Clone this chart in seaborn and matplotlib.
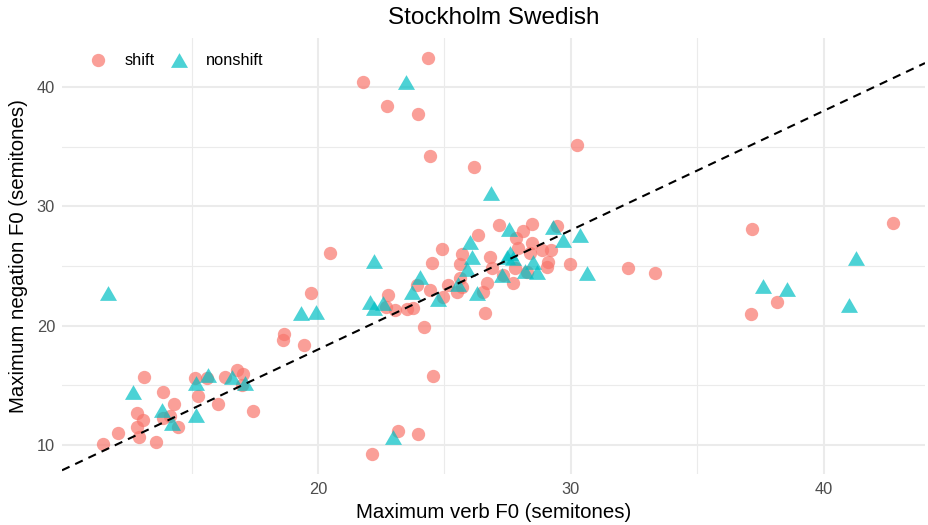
import numpy as np
import pandas as pd
import matplotlib
matplotlib.use("Agg")
import matplotlib.pyplot as plt
import seaborn as sns

# values (semitones)
shift_x = [11.50, 12.09, 12.85, 13.08, 12.85, 12.92, 13.60, 13.12, 13.87, 14.31,
           14.15, 14.47, 13.87, 15.14, 15.26, 15.61, 16.05, 16.32, 16.80, 17.04,
           17.00, 17.43, 18.66, 18.62, 19.45, 19.72, 20.47, 21.78, 22.73, 23.95,
           24.35, 24.43, 26.17, 30.24, 22.13, 23.16, 23.95, 24.55, 24.19, 26.60,
           24.51, 24.90, 27.15, 26.32, 25.69, 25.61, 28.46, 28.10, 27.83, 27.91,
           28.46, 28.38, 28.85, 29.21, 29.09, 29.05, 29.45, 29.96, 26.80, 26.88,
           27.79, 28.26, 27.71, 27.31, 26.68, 26.52, 25.61, 25.14, 25.69, 25.49,
           24.94, 24.43, 23.91, 22.77, 22.69, 23.04, 23.52, 23.75, 32.25, 33.32,
           37.15, 42.73, 38.14, 37.11]
shift_y = [10.08, 11.01, 12.68, 12.10, 11.51, 10.67, 10.25, 15.70, 14.44, 13.44,
           12.43, 11.51, 12.26, 15.62, 14.11, 15.62, 13.44, 15.70, 16.29, 15.95,
           15.03, 12.85, 19.30, 18.80, 18.38, 22.74, 26.09, 40.43, 38.42, 37.75,
           42.44, 34.22, 33.30, 35.15, 9.25, 11.17, 10.92, 15.78, 19.89, 21.06,
           25.26, 26.43, 28.44, 27.60, 26.01, 25.17, 28.52, 27.94, 27.35, 26.51,
           26.93, 26.09, 26.35, 26.35, 25.34, 24.92, 28.36, 25.17, 25.76, 24.84,
           24.84, 24.50, 23.58, 24.25, 23.58, 22.82, 24.00, 23.41, 23.24, 22.82,
           22.41, 22.99, 23.41, 22.57, 21.57, 21.32, 21.40, 21.48, 24.84, 24.42,
           28.11, 28.61, 21.99, 20.98]

nonshift_x = [11.70, 12.69, 13.83, 14.23, 15.18, 15.18, 15.65, 16.60, 17.11, 19.33,
              19.92, 23.48, 22.96, 26.84, 22.21, 27.55, 29.29, 29.68, 30.36, 30.63,
              26.01, 26.09, 25.89, 27.59, 27.71, 28.50, 28.66, 28.18, 27.27, 24.03,
              23.72, 25.53, 26.28, 24.74, 22.06, 22.21, 22.57, 37.59, 38.54, 41.26,
              40.99, 27.47]
nonshift_y = [22.74, 14.44, 12.93, 11.84, 12.51, 15.20, 15.87, 15.70, 15.20, 21.06,
              21.15, 40.43, 10.67, 31.12, 25.42, 28.11, 28.27, 27.18, 27.60, 24.42,
              27.02, 25.76, 24.75, 26.09, 25.67, 25.34, 24.50, 24.58, 24.25, 24.08,
              22.82, 23.50, 22.74, 22.24, 21.99, 21.48, 21.90, 23.33, 23.08, 25.67,
              21.73, 25.76]

groups = ["shift", "nonshift"]
line_intercept = -2.0
line_slope = 1.0

df = pd.DataFrame({
    "verb": shift_x + nonshift_x,
    "neg": shift_y + nonshift_y,
    "type": ["shift"] * len(shift_x) + ["nonshift"] * len(nonshift_x),
})

plt.rcParams["font.family"] = ["Liberation Sans", "DejaVu Sans"]

fig = plt.figure(figsize=(9.29, 5.25), dpi=100)
ax = fig.add_axes([62 / 929, 1 - 474 / 525, (925 - 62) / 929, (474 - 38) / 525])

tri = [(-1, -0.866), (1, -0.866), (0, 0.866)]
sns.scatterplot(data=df[df["type"] == "shift"], x="verb", y="neg", ax=ax,
                color="#F8766D", marker="o", s=92, alpha=0.7, linewidth=0,
                label="shift", zorder=3)
sns.scatterplot(data=df[df["type"] == "nonshift"], x="verb", y="neg", ax=ax,
                color="#00BFC4", marker=tri, s=150, alpha=0.7, linewidth=0,
                label="nonshift", zorder=3)

# reference line
ax.axline((0, line_intercept), slope=line_slope, color="black", lw=1.5,
          ls=(0, (4, 3)), zorder=4)

ax.set_xlim(9.88, 44.0)
ax.set_ylim(7.57, 44.1)
ax.set_xticks([20, 30, 40])
ax.set_yticks([10, 20, 30, 40])
ax.set_xticks([15, 25, 35], minor=True)
ax.set_yticks([15, 25, 35], minor=True)
ax.grid(which="major", color="#EBEBEB", lw=1.5)
ax.grid(which="minor", color="#EBEBEB", lw=0.8)
ax.set_axisbelow(True)
for sp in ax.spines.values():
    sp.set_visible(False)
ax.tick_params(which="both", length=0, labelsize=11.8, colors="#4D4D4D")
ax.tick_params(axis="x", pad=6)
ax.tick_params(axis="y", pad=5)

ax.set_xlabel("Maximum verb F0 (semitones)", fontsize=14.7, labelpad=4)
ax.set_ylabel("Maximum negation F0 (semitones)", fontsize=14.7, labelpad=6)
ax.set_title("Stockholm Swedish", fontsize=17.5, pad=10)

ax.legend(loc="upper left", bbox_to_anchor=(0.006, 1.0), ncol=2, frameon=False,
          fontsize=11.8, handletextpad=0.6, columnspacing=0.5, markerscale=1.0)

fig.savefig("out.png", dpi=100)
